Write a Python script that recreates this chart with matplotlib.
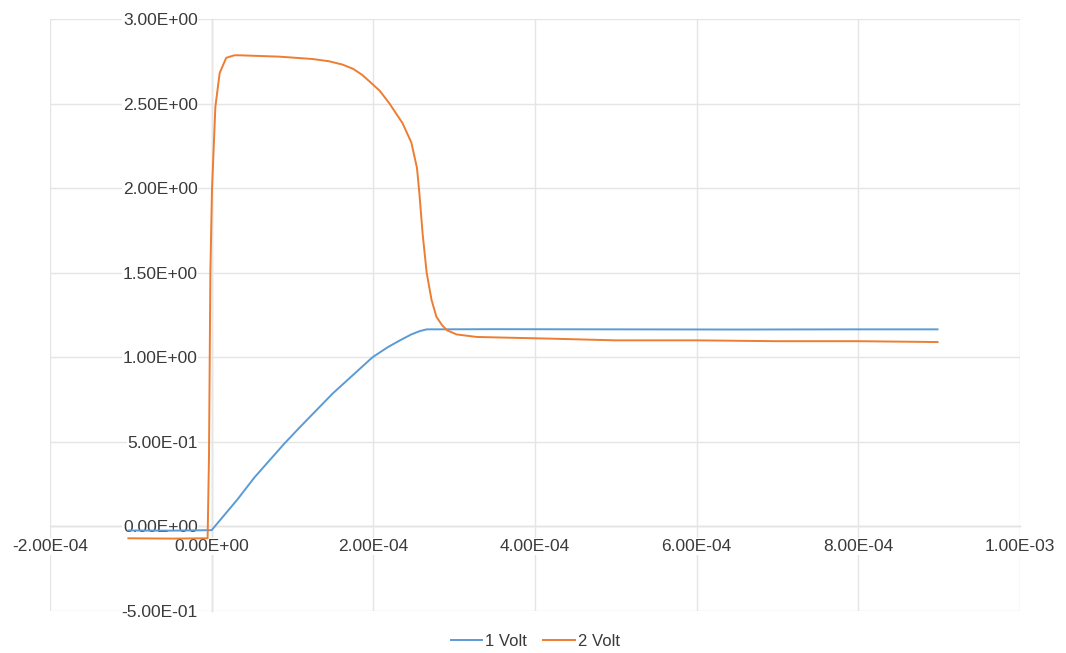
import matplotlib
matplotlib.use("Agg")
import matplotlib.pyplot as plt
from matplotlib.ticker import FormatStrFormatter

plt.rcParams['font.family'] = ['Liberation Sans', 'DejaVu Sans']

# 1 Volt (blue)
t1 = [-1.03e-4, -5e-5, 0, 3.2e-5, 5.3e-5, 9.0e-5, 1.09e-4, 1.50e-4, 1.99e-4,
      2.18e-4, 2.33e-4, 2.47e-4, 2.57e-4, 2.66e-4, 3.5e-4, 5e-4, 6.5e-4,
      8e-4, 8.98e-4]
v1 = [-0.024, -0.025, -0.022, 0.16, 0.29, 0.49, 0.586, 0.787, 1.0,
      1.06, 1.10, 1.135, 1.154, 1.165, 1.166, 1.165, 1.164,
      1.165, 1.165]

# 2 Volt (orange)
t2 = [-1.03e-4, -5e-5, -5e-6, -3.3e-6, -1.6e-6, 0.4e-6, 4.6e-6, 9.9e-6, 1.8e-5,
      2.8e-5, 3.5e-5, 8.4e-5, 1.25e-4, 1.45e-4, 1.62e-4, 1.75e-4, 1.86e-4,
      1.954e-4, 2.08e-4, 2.20e-4, 2.36e-4, 2.47e-4, 2.54e-4, 2.57e-4, 2.61e-4,
      2.66e-4, 2.72e-4, 2.78e-4, 2.85e-4, 2.91e-4, 3.03e-4, 3.28e-4, 4.2e-4,
      5e-4, 6e-4, 7e-4, 8e-4, 8.98e-4]
v2 = [-0.07, -0.072, -0.07, 0.41, 1.5, 1.99, 2.48, 2.68, 2.77,
      2.785, 2.785, 2.777, 2.763, 2.75, 2.73, 2.705, 2.67,
      2.63, 2.575, 2.50, 2.385, 2.27, 2.12, 1.97, 1.73,
      1.50, 1.34, 1.24, 1.19, 1.16, 1.135, 1.12, 1.11,
      1.10, 1.10, 1.095, 1.095, 1.09]

labels = ["1 Volt", "2 Volt"]
xticks = [-2e-4, 0, 2e-4, 4e-4, 6e-4, 8e-4, 1e-3]
yticks = [-0.5, 0, 0.5, 1.0, 1.5, 2.0, 2.5, 3.0]

fig = plt.figure(figsize=(10.66, 6.53), dpi=100)
ax = fig.add_axes([0.0469, 0.0643, 0.9099, 0.9067])

ax.plot(t1, v1, color="#5b9bd5", lw=1.4, label=labels[0], zorder=3)
ax.plot(t2, v2, color="#ed7d31", lw=1.4, label=labels[1], zorder=3)

ax.set_xlim(-2e-4, 1e-3)
ax.set_ylim(-0.5, 3.0)
ax.set_xticks(xticks)
ax.set_yticks(yticks)
ax.xaxis.set_major_formatter(FormatStrFormatter('%.2E'))
ax.yaxis.set_major_formatter(FormatStrFormatter('%.2E'))

ax.set_axisbelow(True)
ax.grid(True, color="#e5e5e5", lw=1)
for s in ["top", "right"]:
    ax.spines[s].set_visible(False)
ax.spines["left"].set_position(("data", 0))
ax.spines["bottom"].set_position(("data", 0))
for s in ["left", "bottom"]:
    ax.spines[s].set_color("#d6d6d6")
    ax.spines[s].set_linewidth(1)
    ax.spines[s].set_zorder(0.3)

ax.tick_params(axis="both", length=0, labelsize=12.5, labelcolor="#3a3a3a")
ax.tick_params(axis="y", pad=10)
ax.tick_params(axis="x", pad=9)
for lab in ax.get_yticklabels() + ax.get_xticklabels():
    lab.set_bbox(dict(facecolor="white", edgecolor="none", pad=0.5))

fig.legend(loc="center", bbox_to_anchor=(0.502, 0.018), ncol=2, frameon=False,
           fontsize=12, labelcolor="#3a3a3a", handlelength=1.9,
           handletextpad=0.15, columnspacing=1.0)

fig.savefig("out.png", dpi=100, facecolor="white")
